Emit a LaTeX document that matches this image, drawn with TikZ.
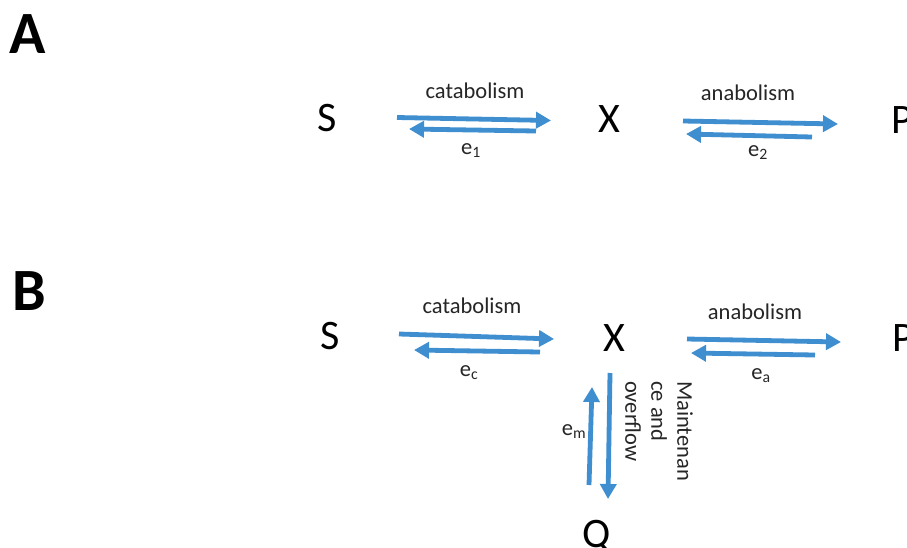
\documentclass[tikz,border=0pt]{standalone}
\usepackage{fontspec}
\setmainfont{Carlito}
\usetikzlibrary{arrows.meta}
\definecolor{arrowblue}{RGB}{62,142,208}
\tikzset{
  flow/.style={draw=arrowblue, line width=4.8pt, -{Triangle[length=15pt,width=16pt]}},
  species/.style={font=\fontsize{42}{46}\selectfont, anchor=base, inner sep=0pt},
  panel/.style={font=\fontsize{60}{64}\selectfont\bfseries, anchor=base west, inner sep=0pt},
  lbl/.style={font=\fontsize{22.5}{26}\selectfont, anchor=base, inner sep=0pt, text=black!85},
  vlbl/.style={font=\fontsize{22.5}{26}\selectfont, anchor=west, inner sep=0pt, rotate=-90, text=black!85}
}
\begin{document}
\begin{tikzpicture}[x=1pt,y=-1pt]
\useasboundingbox[fill=white] (0,0) rectangle (907,547);
% panel letters
\node[panel] (pA) at (9,53) {A};
\node[panel] (pB) at (12,310) {B};
% panel A
\node[species] (S1) at (327,131) {S};
\node[species] (X1) at (609,132) {X};
\node[species] (P1) at (902,133) {P};
\coordinate (a1s) at (397,117.5);
\coordinate (a1e) at (551,120.5);
\coordinate (b1s) at (536,131);
\coordinate (b1e) at (409,129);
\coordinate (a2s) at (683,121);
\coordinate (a2e) at (838,124);
\coordinate (b2s) at (812,137);
\coordinate (b2e) at (686,134);
\draw[flow] (a1s) -- (a1e);
\draw[flow] (b1s) -- (b1e);
\draw[flow] (a2s) -- (a2e);
\draw[flow] (b2s) -- (b2e);
\node[lbl] (cat1) at (475,98) {catabolism};
\node[lbl] (ana1) at (748,100) {anabolism};
\node[lbl] (e1) at (471,154) {e\textsubscript{1}};
\node[lbl] (e2) at (758,156) {e\textsubscript{2}};
% panel B
\node[species] (S2) at (330,349) {S};
\node[species] (X2) at (614,351) {X};
\node[species] (P2) at (903,351) {P};
\node[species] (Q) at (597,547) {Q};
\coordinate (a3s) at (399,334);
\coordinate (a3e) at (554,339);
\coordinate (b3s) at (540,352);
\coordinate (b3e) at (414,350);
\coordinate (a4s) at (687,339);
\coordinate (a4e) at (841,342);
\coordinate (b4s) at (815,355);
\coordinate (b4e) at (691,353);
\coordinate (ds) at (610,373);
\coordinate (de) at (608,499);
\coordinate (us) at (589,485);
\coordinate (ue) at (592,387);
\draw[flow] (a3s) -- (a3e);
\draw[flow] (b3s) -- (b3e);
\draw[flow] (a4s) -- (a4e);
\draw[flow] (b4s) -- (b4e);
\draw[flow] (ds) -- (de);
\draw[flow] (us) -- (ue);
\node[lbl] (cat2) at (472,313) {catabolism};
\node[lbl] (ana2) at (755,319) {anabolism};
\node[lbl] (ec) at (469,376) {e\textsubscript{c}};
\node[lbl] (ea) at (761,379) {e\textsubscript{a}};
\node[lbl] (em) at (574,435) {e\textsubscript{m}};
\node[vlbl] (m1) at (685,381) {Maintenan};
\node[vlbl] (m2) at (659,381) {ce and};
\node[vlbl] (m3) at (633,381) {overflow};
\end{tikzpicture}
\end{document}
